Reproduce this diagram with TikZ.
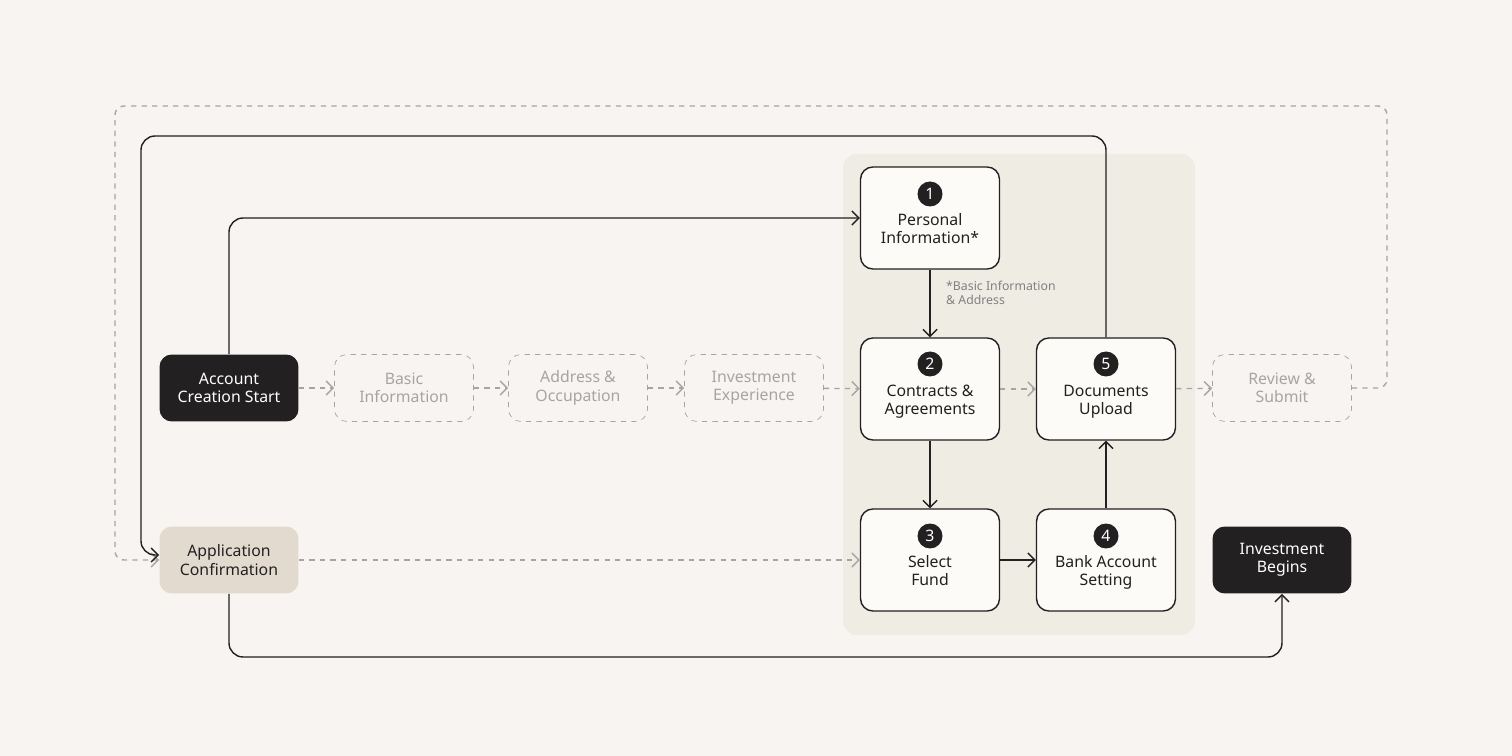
\documentclass[tikz,border=0pt]{standalone}
\usepackage{fontspec}
\setmainfont{Noto Sans}
\usetikzlibrary{positioning,arrows.meta}
\definecolor{bgpage}{HTML}{F8F4F2}
\definecolor{panel}{HTML}{EFECE4}
\definecolor{boxfill}{HTML}{FDFBF7}
\definecolor{ink}{HTML}{222020}
\definecolor{faint}{HTML}{A8A4A2}
\definecolor{beige}{HTML}{E2DACF}
\begin{document}
\begin{tikzpicture}[x=0.02cm,y=-0.02cm,font=\fontsize{9}{10.5}\selectfont]
    \tikzstyle{base}=[rounded corners=7pt,minimum width=2.78cm,align=center]
    \tikzstyle{dark}=[base,fill=ink,text=white,minimum height=1.34cm]
    \tikzstyle{ghost}=[base,draw=faint,dashed,text=faint,fill=bgpage,minimum height=1.34cm]
    \tikzstyle{stepbox}=[base,draw=ink,thick,fill=boxfill,text=ink,minimum height=2.04cm,text depth=0pt]
    \tikzstyle{num}=[circle,fill=ink,text=white,inner sep=0pt,minimum size=0.5cm,font=\fontsize{9}{10}\selectfont\bfseries]
    \tikzstyle{link}=[ink,thick,-{Straight Barb[length=4pt]}]
    \tikzstyle{dlink}=[faint,thick,dashed,-{Straight Barb[length=4pt]}]
    \fill[bgpage] (0,0) rectangle (1512,756);
    \fill[panel,rounded corners=8pt] (843,154) rectangle (1195,635);
    \node[dark] (start) at (229,388) {Account\\Creation Start};
    \node[ghost] (basic) at (404,388) {Basic\\Information};
    \node[ghost] (addr) at (578,388) {Address \&\\Occupation};
    \node[ghost] (exp) at (754,388) {Investment\\Experience};
    \node[stepbox] (personal) at (930,218) {\\[8pt]Personal\\Information*};
    \node[stepbox] (contract) at (930,389) {\\[8pt]Contracts \&\\Agreements};
    \node[stepbox] (docs) at (1106,389) {\\[8pt]Documents\\Upload};
    \node[stepbox] (fund) at (930,560) {\\[8pt]Select\\Fund};
    \node[stepbox] (bank) at (1106,560) {\\[8pt]Bank Account\\Setting};
    \node[num] (n1) at (930,194) {1};
    \node[num] (n2) at (930,364) {2};
    \node[num] (n5) at (1106,364) {5};
    \node[num] (n3) at (930,536) {3};
    \node[num] (n4) at (1106,536) {4};
    \node[ghost] (review) at (1282,388) {Review \&\\Submit};
    \node[base,fill=beige,text=ink,minimum height=1.34cm] (confirm) at (229,560) {Application\\Confirmation};
    \node[dark] (begin) at (1282,560) {Investment\\Begins};
    \node[anchor=north west,align=left,text=gray,font=\fontsize{7}{8}\selectfont] (note) at (940,275) {*Basic Information\\\& Address};
    % ghost chain
    \draw[dlink] (start) -- (basic);
    \draw[dlink] (basic) -- (addr);
    \draw[dlink] (addr) -- (exp);
    \draw[dlink] (exp) -- (contract);
    \draw[dlink] (contract) -- (docs);
    \draw[dlink] (docs) -- (review);
    \draw[dlink] (confirm) -- (fund);
    \draw[dlink,rounded corners=5pt] (review.east) -| (1387,106) -| (115,560) -- (confirm.west);
    % main flow
    \draw[link,rounded corners=8pt] (start.north) |- (personal.west);
    \draw[link] (personal) -- (contract);
    \draw[link] (contract) -- (fund);
    \draw[link] (fund) -- (bank);
    \draw[link] (bank) -- (docs);
    \draw[link,rounded corners=8pt] (docs.north) |- (141,136) -- (141,555) -- (confirm.west|-0,555);
    \draw[link,rounded corners=8pt] (confirm.south) |- (1282,657) -- (begin.south);
\end{tikzpicture}
\end{document}
